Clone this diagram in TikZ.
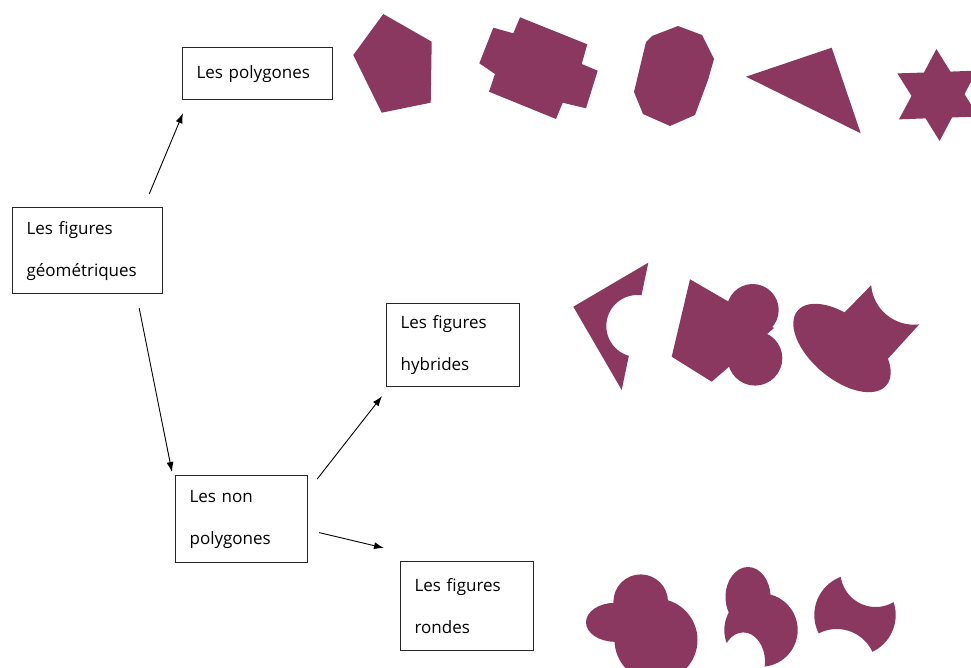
\documentclass[tikz,border=0pt]{standalone}
\usepackage{fontspec}
\setmainfont{Open Sans}
\usetikzlibrary{arrows.meta,calc}
\definecolor{figcol}{HTML}{8A3860}
\begin{document}
\begin{tikzpicture}[x=1pt,y=-1pt,
  box/.style={draw=black!85, line width=1.2pt, rectangle, anchor=north west,
    align=left, inner xsep=14pt, inner ysep=0pt,
    font=\fontsize{17pt}{42pt}\selectfont},
  conn/.style={-{Latex[length=10pt,width=7pt]}, line width=0.9pt},
  shp/.style={fill=figcol}]
\useasboundingbox (0,0) rectangle (971,668);
\clip (0,0) rectangle (971,668);

% boxes
\node[box, text width=122pt, minimum height=52pt] (poly) at (182,47) {Les polygones};
\node[box, text width=122pt, minimum height=86pt] (geo) at (12,207) {Les figures\\géométriques};
\node[box, text width=105pt, minimum height=83pt] (hyb) at (386,303) {Les figures\\hybrides};
\node[box, text width=104pt, minimum height=87pt] (nonpoly) at (175,475) {Les non\\polygones};
\node[box, text width=105pt, minimum height=89pt] (rondes) at (400,561) {Les figures\\rondes};

% connectors
\draw[conn] ($(geo.north east)+(-14,-13)$) -- ($(poly.south west)+(1,13)$);
\draw[conn] ($(geo.south east)+(-24,14)$) -- ($(nonpoly.north west)+(-3,-3)$);
\draw[conn] ($(nonpoly.north east)+(9,4)$) -- ($(hyb.south west)+(-4,9)$);
\draw[conn] ($(nonpoly.east)+(11,13.5)$) -- ($(rondes.north west)+(-16,-13)$);

% polygons row
\fill[shp] (383.3,14) -- (431.7,41.7) -- (430.7,102.7) -- (381.7,112.7) -- (353.3,55) -- cycle;
\fill[shp] (520,17.3) -- (587.3,44.3) -- (581.7,64) -- (597.7,70.7) -- (586,108.3) -- (562.7,102.7) -- (556,119) -- (489,91.7) -- (495,74) -- (479.3,63.3) -- (493.3,27.7) -- (513.3,33.3) -- cycle;
\fill[shp] (678,26) -- (702,35) -- (714,59) -- (708,80) -- (695,115) -- (670,126) -- (643,114) -- (634,92) -- (646,42) -- (652,36) -- cycle;
\fill[shp] (746,76.7) -- (831.7,47.7) -- (860.7,133.3) -- cycle;
\begin{scope}[shift={(938,95)}]
\fill[shp] (-92:46) -- (-62:26.5) -- (-32:46) -- (-2:26.5) -- (28:46) -- (58:26.5) -- (88:46) -- (118:26.5) -- (148:46) -- (178:26.5) -- (208:46) -- (238:26.5) -- cycle;
\end{scope}

% hybrid shapes
\begin{scope}
\clip (573.3,306.7) -- (648.3,262.7) -- (621.7,390) -- cycle;
\fill[shp, even odd rule] (560,250) rectangle (670,400) (637.3,326) circle[radius=31];
\end{scope}
\fill[shp] (690,279.3) -- (671.7,356.7) -- (711.7,381.7) -- (774,328) -- cycle;
\fill[shp] (752.7,310) circle[radius=26];
\fill[shp] (755,358.3) circle[radius=27.3];
\fill[shp, rotate around={-40:(842,348)}] (842,348) ellipse[x radius=58, y radius=31];
\begin{scope}
\clip (843,314) -- (890,266) -- (935,307) -- (885,362) -- cycle;
\fill[shp, even odd rule] (830,250) rectangle (950,380) (914,281.7) circle[radius=43];
\end{scope}

% round shapes
\fill[shp] (640.7,601.7) circle[radius=27.3];
\fill[shp] (615,622.3) ellipse[x radius=29, y radius=19.5];
\fill[shp] (656,640) circle[radius=41.5];
\fill[shp] (748,597) ellipse[x radius=22.5, y radius=30];
\begin{scope}
\clip (761,630) circle[radius=36.7];
\fill[shp, even odd rule] (710,580) rectangle (810,700) (743.3,661.7) ellipse[x radius=21.7, y radius=29.3];
\end{scope}
\begin{scope}
\clip (855,615) circle[radius=40.7];
\fill[shp, even odd rule] (800,560) rectangle (910,700) (875.7,571.7) circle[radius=35.3] (836.7,668.3) circle[radius=39.3];
\end{scope}
\end{tikzpicture}
\end{document}
